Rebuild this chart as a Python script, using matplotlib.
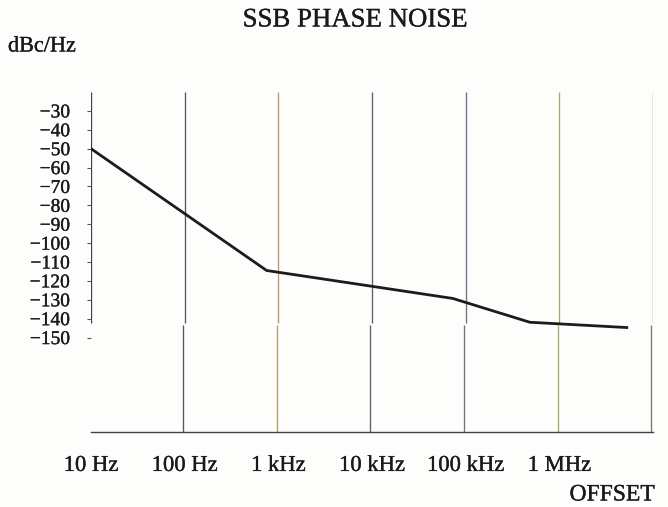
import matplotlib
matplotlib.use('Agg')
import matplotlib.pyplot as plt
import matplotlib.patheffects as pe
from matplotlib.transforms import ScaledTranslation

# ---- data ----
freq_hz = [10, 750, 73000, 484000, 5.25e6]
noise_dbc = [-50, -114.5, -129.3, -141.9, -144.7]
decades = [10, 100, 1e3, 1e4, 1e5, 1e6, 1e7]
x_labels = ['10 Hz', '100 Hz', '1 kHz', '10 kHz', '100 kHz', '1 MHz']
y_ticks = list(range(-30, -151, -10))
grid_colors = ['#3c4650', '#4c5a66', '#b89a70', '#5a6068', '#6a7480', '#a8a868', '#707a70']

plt.rcParams['font.family'] = ['Liberation Serif', 'DejaVu Serif']

TXT = '#1a1a1a'
thick = [pe.withStroke(linewidth=0.22, foreground=TXT)]

W, H = 668, 507
fig = plt.figure(figsize=(W / 100, H / 100), dpi=100, facecolor='#fdfdfb')
ax = fig.add_axes([91 / W, 1 - 432 / H, (653 - 91) / W, (432 - 92) / H])
ax.set_facecolor('none')
ax.set_xscale('log')
ax.set_xlim(10, 1e7)
ax.set_ylim(-200, -20)

for s in ['top', 'right', 'left']:
    ax.spines[s].set_visible(False)
ax.spines['bottom'].set_color('#3a424a')
ax.spines['bottom'].set_linewidth(1.0)

# vertical decade lines (with the small scan break and offset)
shift = ScaledTranslation(-1.8 / 100, 0, fig.dpi_scale_trans)
for f, c in zip(decades, grid_colors):
    ax.plot([f, f], [-20, -142.2], color=c, lw=0.95, solid_capstyle='butt', zorder=1)
    ax.plot([f, f], [-143.4, -200], color=c, lw=0.95, solid_capstyle='butt', zorder=1,
            transform=ax.transData + shift)

# curve
ax.plot(freq_hz, noise_dbc, color='#1c1c1c', lw=2.0, zorder=3)

# ticks
ax.set_yticks(y_ticks)
ax.set_yticklabels([f'\u2212{abs(v)}' for v in y_ticks])
ax.tick_params(axis='y', direction='out', length=3, width=0.8, color='#555555',
               labelsize=14, pad=12, labelcolor=TXT)
ax.set_xticks(decades[:6])
ax.set_xticklabels(x_labels)
ax.minorticks_off()
ax.tick_params(axis='x', length=0, labelsize=16.3, pad=16.5, labelcolor=TXT)
for lab in ax.get_xticklabels() + ax.get_yticklabels():
    lab.set_path_effects(thick)

fig.text(355 / W, 1 - 20 / H, 'SSB PHASE NOISE', ha='center', va='center',
         fontsize=19.3, color=TXT, path_effects=thick)
fig.text(8 / W, 1 - 47 / H, 'dBc/Hz', ha='left', va='center', fontsize=16,
         color=TXT, path_effects=thick)
fig.text(655 / W, 1 - 495 / H, 'OFFSET', ha='right', va='center', fontsize=17,
         color=TXT, path_effects=thick)

fig.savefig('out.png', dpi=100, facecolor=fig.get_facecolor())
